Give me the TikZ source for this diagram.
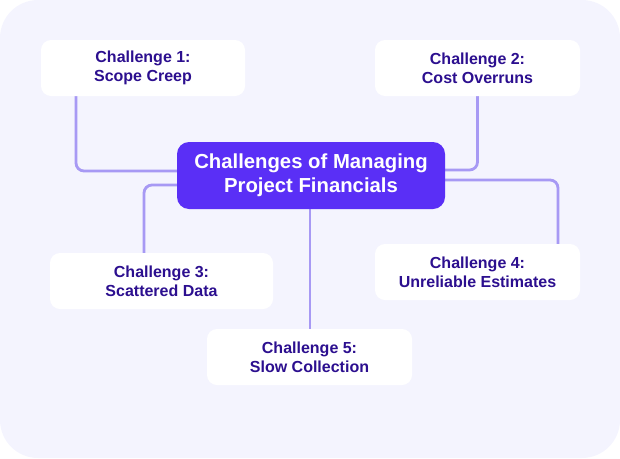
\documentclass[tikz,border=0pt]{standalone}
\usepackage{fontspec}
\setmainfont{Liberation Sans}
\usetikzlibrary{backgrounds}
\definecolor{bgc}{HTML}{F4F4FE}
\definecolor{mainc}{HTML}{5A2FF6}
\definecolor{txtc}{HTML}{2C0F8F}
\definecolor{linec}{HTML}{A799F4}
\tikzset{
  leaf/.style={fill=white, rounded corners=10pt, minimum height=56pt, inner sep=0pt,
    align=center, text=txtc, font=\fontsize{16}{19}\selectfont\bfseries},
  hub/.style={fill=mainc, rounded corners=12pt, minimum width=268pt, minimum height=67pt, inner sep=0pt,
    align=center, text=white, font=\fontsize{20.3}{24}\selectfont\bfseries},
  conn/.style={draw=linec, line width=2.8pt, rounded corners=8pt}
}
\begin{document}
\begin{tikzpicture}[x=1pt,y=-1pt]
\useasboundingbox (0,0) rectangle (620,458);
\node[hub] (c) at (311,175.5) {Challenges of Managing\\Project Financials};
\node[leaf, minimum width=204pt] (b1) at (143,68) {Challenge 1:\\Scope Creep};
\node[leaf, minimum width=205pt] (b2) at (477.5,68) {Challenge 2:\\Cost Overruns};
\node[leaf, minimum width=223pt] (b3) at (161.5,281) {Challenge 3:\\Scattered Data};
\node[leaf, minimum width=205pt] (b4) at (477.5,272) {Challenge 4:\\Unreliable Estimates};
\node[leaf, minimum width=205pt] (b5) at (309.5,357) {Challenge 5:\\Slow Collection};
\begin{pgfonlayer}{background}
\fill[bgc, rounded corners=38pt] (0,0) rectangle (620,458);
\draw[conn] ([xshift=-67pt]b1.south) |- ([yshift=4.5pt]c.west);
\draw[conn] (b2.south) |- ([yshift=5.5pt]c.east);
\draw[conn] ([yshift=-9.5pt]c.west) -| ([xshift=-17.5pt]b3.north);
\draw[conn] ([yshift=-4.5pt]c.east) -| ([xshift=80.5pt]b4.north);
\draw[conn] ([xshift=-1pt]c.south) -- ([xshift=-1pt]c.south|-b5.north);
\end{pgfonlayer}
\end{tikzpicture}
\end{document}
